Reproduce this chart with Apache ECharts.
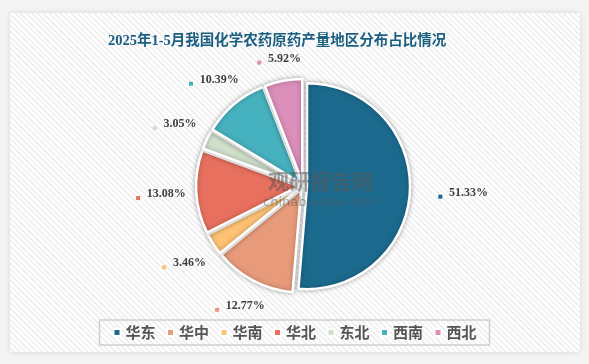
<!DOCTYPE html>
<html><head><meta charset="utf-8">
<script src="https://cdn.jsdelivr.net/npm/echarts@6/dist/echarts.min.js"></script>
<style>
html,body{margin:0;padding:0;background:#f4f4f4;}
#wrap{position:relative;width:589px;height:364px;overflow:hidden;}
#card{position:absolute;left:10px;top:13px;width:570px;height:339px;
background:repeating-linear-gradient(45deg,#ffffff 0px,#ffffff 2px,#f1f1f1 2px,#f1f1f1 4px);
box-shadow:0 0 6px rgba(0,0,0,0.12);}
#chart{position:absolute;left:0;top:0;width:589px;height:364px;}
</style></head>
<body><div id="wrap"><div id="card"></div><div id="chart"></div></div>
<script>
const titleText = '2025年1-5月我国化学农药原药产量地区分布占比情况';
const regions = ['华东','华中','华南','华北','东北','西南','西北'];
const shares = [51.33, 12.77, 3.46, 13.08, 3.05, 10.39, 5.92];
const colors = ['#1b6a8e','#e89b7a','#fdc274','#e8705e','#d0e0cb','#47b2bf','#dc8fba'];

const CENTER = ['51.45%','51.1%'], RADIUS = 103, OFF_MAIN = 12, OFF = 4;
const LW = 46, LH = 13, GAP = 9, GAP_MAIN = 19;

const chart = echarts.init(document.getElementById('chart'), null, {renderer:'canvas'});
const total = shares.reduce((a,b)=>a+b,0);
const midAngles = [];
{ let acc = 0; shares.forEach(v=>{ midAngles.push((acc + v/2)/total*2*Math.PI); acc += v; }); }

const pieData = regions.map((n,i)=>({
  name:n, value:shares[i], selected:true,
  selectedOffset: i===0 ? OFF_MAIN : OFF,
  itemStyle:{color:colors[i]}
}));

// one invisible ring per label, each at the distance that keeps its centred label just clear of the slice
const labelSeries = regions.map((n,i)=>{
  const a = midAngles[i];
  const ext = Math.abs(Math.sin(a))*LW/2 + Math.abs(Math.cos(a))*LH/2;
  const d = RADIUS + (i===0 ? OFF_MAIN + GAP_MAIN : OFF + GAP) + ext;
  return {
    type:'pie',center:CENTER,radius:[d-1,d+1],startAngle:90,clockwise:true,
    silent:true,z:5,selectedMode:false,
    itemStyle:{color:'rgba(0,0,0,0)',borderWidth:0},
    label:{show:false,position:'inside',rotate:0,formatter:p=>'{m|}  {v|'+p.value.toFixed(2)+'%}',
      rich:{v:{fontSize:12,fontWeight:'bold',color:'#404040',fontFamily:'"Liberation Serif"'}}},
    labelLine:{show:false},
    emphasis:{disabled:true},
    data:regions.map((nn,j)=>({name:nn,value:shares[j],
      label: j===i ? {show:true,rich:{m:{width:4,height:4,backgroundColor:colors[j],verticalAlign:'bottom'}}} : {show:false}}))
  };
});

chart.setOption({
  animation:false,
  title:{text:titleText,left:103,top:29,
    textStyle:{fontSize:14.5,fontWeight:'bold',color:'#1b5f80',fontFamily:'"Liberation Serif","Noto Sans CJK SC"'}},
  legend:{data:regions,bottom:19,left:'center',itemWidth:7,itemHeight:7,itemGap:10.5,
    icon:'rect',borderColor:'#cfcfcf',borderWidth:1.5,padding:[5,13,5,13],selectedMode:false,
    textStyle:{fontSize:15,fontWeight:'bold',color:'#555',fontFamily:'"Noto Sans CJK SC"'}},
  graphic:[
    {type:'text',left:268,top:171,z:100,style:{text:'观研报告网',fontSize:21,fontWeight:'bold',fill:'rgba(90,90,90,0.55)',fontFamily:'"Noto Sans CJK SC"'}},
    {type:'text',left:263,top:196,z:100,style:{text:'chinabaogao.com',fontSize:13,fill:'rgba(90,90,90,0.5)',fontFamily:'"DejaVu Sans"'}}
  ],
  series:[{
    type:'pie',center:CENTER,radius:[0,RADIUS],startAngle:90,clockwise:true,
    selectedMode:'multiple',selectedOffset:OFF,
    itemStyle:{borderColor:'#fff',borderWidth:2.5,shadowBlur:5,shadowColor:'rgba(0,0,0,0.3)'},
    label:{show:false},labelLine:{show:false},
    emphasis:{disabled:true},
    data:pieData
  }].concat(labelSeries)
});
</script></body></html>
